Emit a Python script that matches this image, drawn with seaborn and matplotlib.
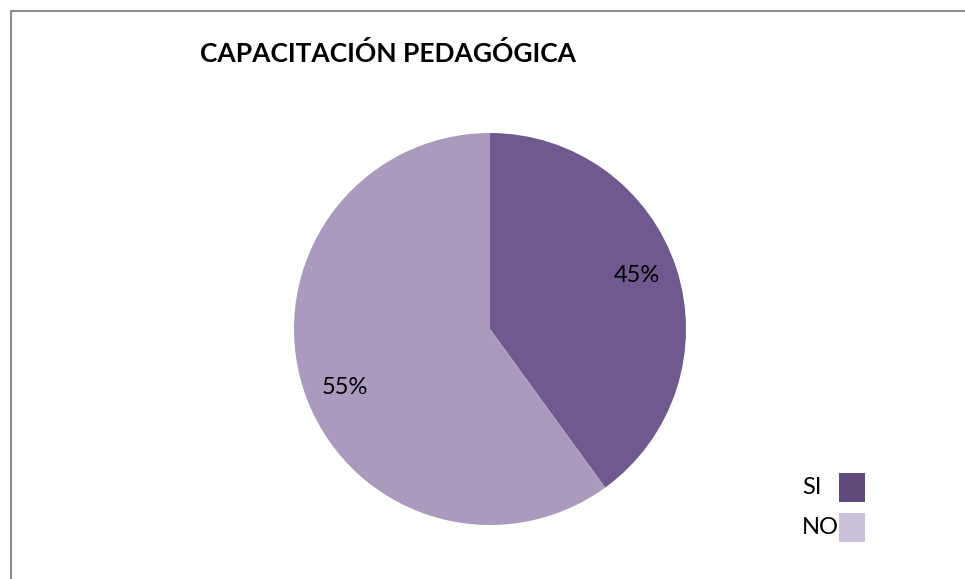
import matplotlib
matplotlib.use("Agg")
import numpy as np
import matplotlib.pyplot as plt
from matplotlib.patches import Rectangle
from matplotlib.lines import Line2D
import seaborn as sns

# data
categories = ["SI", "NO"]
shares = [40, 60]              # drawn slice sizes
pct_labels = ["45%", "55%"]    # printed labels
slice_colors = ["#70598F", "#A99ABE"]
legend_colors = ["#604A7B", "#CCC1DA"]
title = "CAPACITACIÓN PEDAGÓGICA"

sns.set_theme(style="white")
plt.rcParams["font.family"] = ["Lato", "DejaVu Sans"]
plt.rcParams["text.color"] = "black"

W, H = 965, 579
fig = plt.figure(figsize=(W / 100, H / 100), dpi=100)
fig.patch.set_facecolor("white")

# pie axes: centre (490, 329), radius 196 px
cx, cy, r = 490, 329, 196
ax = fig.add_axes([(cx - r) / W, (H - cy - r) / H, 2 * r / W, 2 * r / H])
wedges, texts = ax.pie(
    shares,
    labels=pct_labels,
    colors=slice_colors,
    startangle=90,
    counterclock=False,
    labeldistance=0.8,
    wedgeprops={"linewidth": 0},
    textprops={"fontsize": 17, "color": "black", "ha": "center", "va": "center"},
)
# nudge labels a little along the arc, like the original
for w, t, shift in zip(wedges, texts, [2, 4]):
    ang = np.deg2rad((w.theta1 + w.theta2) / 2 + shift)
    t.set_position((0.8 * np.cos(ang), 0.8 * np.sin(ang)))
ax.set_xlim(-1, 1)
ax.set_ylim(-1, 1)
ax.set_aspect("auto")
ax.axis("off")

# title
fig.text(200 / W, 1 - 53 / H, title, fontsize=19, fontweight="bold",
         color="black", ha="left", va="center")

# legend (text left of box)
box_y = [473, 513]
for cat, col, y in zip(categories, legend_colors, box_y):
    fig.add_artist(Rectangle((839 / W, 1 - (y + 29) / H), 26 / W, 29 / H,
                             transform=fig.transFigure, facecolor=col,
                             edgecolor="none"))
    fig.text(802 / W, 1 - (y + 14) / H, cat, fontsize=17, color="black",
             ha="left", va="center")

# chart frame (left and top edges visible)
fig.add_artist(Line2D([10.5 / W, 10.5 / W, 1], [0, 1 - 10.5 / H, 1 - 10.5 / H],
                      transform=fig.transFigure, color="#8C8C8C", linewidth=1.5))

fig.savefig("out.png", dpi=100)
